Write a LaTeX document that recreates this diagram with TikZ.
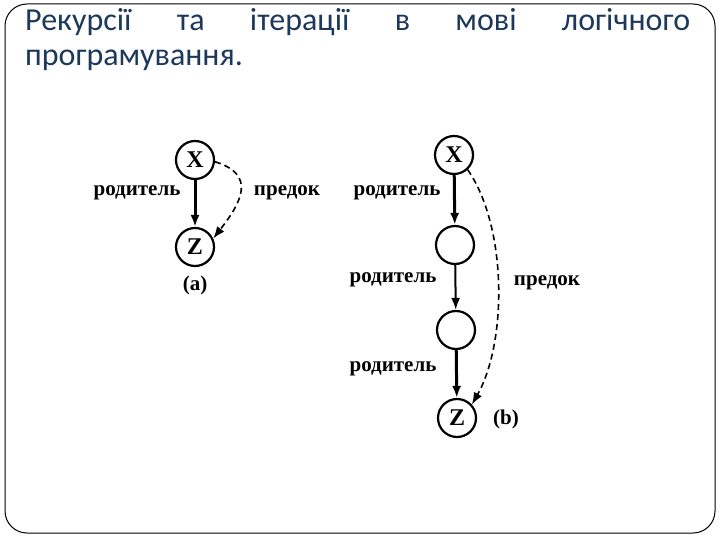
\documentclass[tikz,border=0pt]{standalone}
\usepackage{fontspec}
\setmainfont{Liberation Serif}
\newfontfamily\titlefont{Carlito}
\usetikzlibrary{arrows.meta}
\definecolor{titleblue}{RGB}{28,56,90}
\begin{document}
\begin{tikzpicture}[x=1pt,y=-1pt,
  circ/.style={circle,draw,line width=2.2pt,minimum size=38pt,inner sep=0pt,font=\fontsize{24}{24}\selectfont\bfseries},
  lbl/.style={font=\fontsize{21}{21}\selectfont\bfseries,inner sep=0pt},
  titletext/.style={anchor=base west,inner sep=0pt,text=titleblue,font=\titlefont\fontsize{32}{38}\selectfont},
  parentarrow/.style={line width=3pt,-{Latex[length=12pt,width=9pt]}},
  ancarrow/.style={line width=1.6pt,dash pattern=on 6pt off 4pt,-{Latex[length=12pt,width=9pt]}}]
\useasboundingbox (0,0) rectangle (720,540);
\draw[line width=1pt,rounded corners=22pt] (5,4) rectangle (715,533);
% title
\node[titletext] (t1) at (25,31) {\makebox[665pt][s]{Рекурсії та ітерації в мові логічного}};
\node[titletext] (t2) at (25,66) {програмування.};
% diagram (a)
\node[circ] (Xa) at (195,160) {X};
\node[circ] (Za) at (195,247) {Z};
\node[lbl] (ra) at (137,193) {родитель};
\node[lbl] (pa) at (287,193) {предок};
\node[lbl] (la) at (195,285) {(a)};
\draw[parentarrow] (Xa) -- (Za);
\draw[ancarrow] (Xa.-5) .. controls +(42,13) and +(28,-36) .. (Za.25);
% diagram (b)
\node[circ] (Xb) at (454,155) {X};
\node[circ] (Cb) at (455,245) {};
\node[circ] (Db) at (456,330) {};
\node[circ] (Zb) at (457,418) {Z};
\node[lbl] (rb1) at (397,193) {родитель};
\node[lbl] (rb2) at (393,280) {родитель};
\node[lbl] (rb3) at (393,369) {родитель};
\node[lbl] (pb) at (547,283) {предок};
\node[lbl] (lb) at (506,419) {(b)};
\draw[parentarrow] (Xb) -- (Cb);
\draw[parentarrow,line width=2pt] (Cb) -- (Db);
\draw[parentarrow] (Db) -- (Zb);
\draw[ancarrow] (Xb.-47) .. controls +(40,58) and +(35,-62) .. (Zb.42);
\end{tikzpicture}
\end{document}
